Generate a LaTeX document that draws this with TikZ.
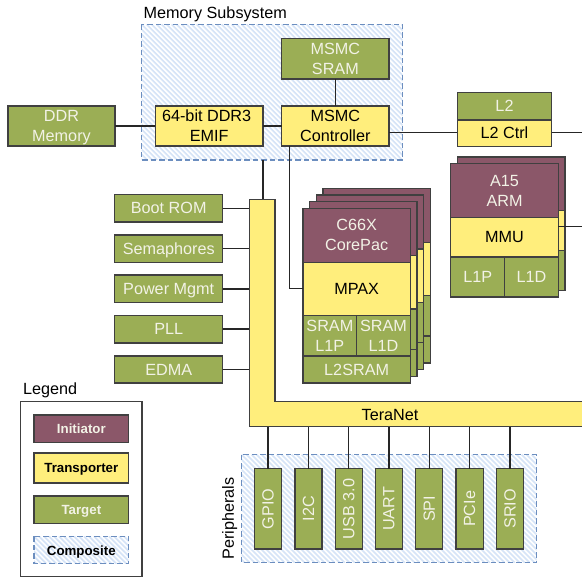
\documentclass[tikz,border=0pt]{standalone}
\usepackage{fontspec}
\setmainfont{Liberation Sans}
\definecolor{cinit}{HTML}{8B5769}
\definecolor{ctrans}{HTML}{FFEE7C}
\definecolor{ctarg}{HTML}{9BAE55}
\definecolor{cline}{HTML}{404040}
\definecolor{ctxt}{HTML}{F2F2E6}
\definecolor{cdash}{HTML}{6C8EBF}
\definecolor{chatch}{HTML}{D6E4F7}
\tikzset{
  base/.style={draw=cline,line width=1.3pt,inner sep=0pt,outer sep=0pt,align=center,font=\fontsize{16.2}{20}\selectfont},
  initbox/.style={base,fill=cinit,text=ctxt},
  transbox/.style={base,fill=ctrans,text=black},
  targbox/.style={base,fill=ctarg,text=ctxt},
  conn/.style={draw=black!85,line width=1.1pt},
  legendtxt/.style={font=\fontsize{13.3}{16}\selectfont\bfseries},
  caption/.style={inner sep=0pt,font=\fontsize{16.2}{20}\selectfont},
}
\newcommand{\nodp}[1]{\raisebox{0pt}[\height][0pt]{#1}}
\newcommand{\bx}[7][]{%
  \pgfmathsetmacro{\bxcx}{(#3+#5)/2}\pgfmathsetmacro{\bxcy}{(#4+#6)/2}%
  \pgfmathsetmacro{\bxw}{#5-(#3)}\pgfmathsetmacro{\bxh}{#6-(#4)}%
  \node[#2,minimum width=\bxw pt,minimum height=\bxh pt,#1] at (\bxcx,\bxcy) {#7};}
\newcommand{\hatched}[4]{%
  \begin{scope}
    \clip (#1,#2) rectangle (#3,#4);
    \fill[white] (#1,#2) rectangle (#3,#4);
    \foreach \k in {-600,-595,...,600}{
      \draw[chatch,line width=1.7pt] ({#1+\k},#2) -- ({#1+\k+(#4-#2)},#4);
    }
  \end{scope}
  \draw[cdash,line width=1.3pt,dash pattern=on 5.5pt off 3pt] (#1,#2) rectangle (#3,#4);}
\begin{document}
\begin{tikzpicture}[x=1pt,y=-1pt]
\useasboundingbox (0,0) rectangle (582,577);
\fill[white] (0,0) rectangle (582,577);

% composites
\hatched{141.7}{24.5}{402.7}{160}
\hatched{241.7}{454.7}{536.7}{562.7}
\node[caption,anchor=west] (memcap) at (143.5,12.5) {\nodp{Memory Subsystem}};
\node[caption,rotate=90] (percap) at (228,518.5) {\nodp{Peripherals}};

% coordinates for connector ends
\coordinate (memb) at (263,160);
\coordinate (e1) at (582,132.8);
\coordinate (e2) at (582,226.7);

% TeraNet
\draw[base,fill=ctrans] (249.3,199.3) -- (275,199.3) -- (275,401.7) -- (590,401.7) -- (590,426.7) -- (249.3,426.7) -- cycle;
\node[inner sep=0pt,font=\fontsize{16.2}{20}\selectfont] (tera) at (390,415) {TeraNet};
\coordinate (ttop) at (263,199.3);

% memory subsystem
\bx[name=sram]{targbox}{281.7}{38.7}{389}{79}{MSMC\\SRAM}
\bx[name=emif]{transbox}{155.3}{106}{263}{146}{64-bit DDR3\hspace*{5pt}\\EMIF}
\bx[name=ctrl]{transbox}{281.7}{106}{389}{146}{MSMC\\Controller}
\bx[name=ddr]{targbox}{8}{106}{115}{146}{DDR\\\nodp{Memory}}

% L2
\bx[name=ltwo]{targbox}{457.3}{92.3}{551.7}{120}{L2}
\bx[name=ltwoc]{transbox}{457.3}{120}{551.7}{146.3}{L2 Ctrl}

% A15 back
\bx{initbox}{457.4}{157}{565}{210.7}{}
\bx{transbox}{457.4}{210.7}{565}{250.7}{}
\bx{targbox}{457.4}{250.7}{565}{290.7}{}
% A15 front
\bx[name=arm]{initbox}{450.7}{163.7}{558.3}{217.3}{A15\\ARM}
\bx[name=mmu]{transbox}{450.7}{217.3}{558.3}{257}{MMU}
\bx[name=aone]{targbox}{450.7}{257}{504.7}{297}{L1P}
\bx[name=atwo]{targbox}{504.7}{257}{558.3}{297}{L1D}

% C66X stacks
\foreach \d in {3,2,1}{
  \pgfmathsetmacro{\offs}{\d*6.67}
  \bx{initbox}{303+\offs}{208.3-\offs}{410.3+\offs}{262.3-\offs}{}
  \bx{transbox}{303+\offs}{262.3-\offs}{410.3+\offs}{315.7-\offs}{}
  \bx{targbox}{303+\offs}{315.7-\offs}{410.3+\offs}{356-\offs}{}
  \bx{targbox}{303+\offs}{356-\offs}{410.3+\offs}{383-\offs}{}
}
\bx[name=cpac]{initbox}{303}{208.3}{410.3}{262.3}{C66X\\CorePac}
\bx[name=mpax]{transbox}{303}{262.3}{410.3}{315.7}{MPAX}
\bx[name=sp]{targbox}{303}{315.7}{356.7}{356}{SRAM\\L1P}
\bx[name=sd]{targbox}{356.7}{315.7}{410.3}{356}{SRAM\\L1D}
\bx[name=lsr]{targbox}{303}{356}{410.3}{383}{L2SRAM}

% left targets
\bx[name=boot]{targbox}{114.7}{194.7}{222.7}{222}{Boot ROM}
\bx[name=sema]{targbox}{114.7}{235}{222.7}{262.3}{\nodp{Semaphores}}
\bx[name=power]{targbox}{114.7}{275}{222.7}{302.7}{\nodp{Power Mgmt}}
\bx[name=pll]{targbox}{114.7}{315.7}{222.7}{343}{PLL}
\bx[name=edma]{targbox}{114.7}{356}{222.7}{383}{EDMA}

% peripherals
\foreach \n/\a/\b/\lab in {gpio/254.3/281.7/GPIO,iic/295/322/I2C,usb/335.3/362.3/USB 3.0,uart/375.3/402.7/UART,spi/415.7/442.7/SPI,pcie/456/483.3/PCIe,srio/496.3/523.7/SRIO}{
  \bx[name=\n]{targbox}{\a}{468.7}{\b}{549}{\rotatebox{90}{\lab}}
}

% connectors
\draw[conn] (ddr.east |- 0,126) -- (emif.west |- 0,126);
\draw[conn] (emif.east |- 0,126) -- (ctrl.west |- 0,126);
\draw[conn] (sram) -- (ctrl);
\draw[conn] (ctrl.east |- 0,132.8) -- (ltwoc.west |- 0,132.8);
\draw[conn] (ltwoc.east |- 0,132.8) -- (e1);
\draw[conn] (mmu.east |- 0,226.7) -- (e2);
\draw[conn] (memb) -- (ttop);
\draw[conn] (289.3,146) -- (289.3,288.5) -- (mpax.west |- 0,288.5);
\foreach \n/\y in {boot/208.3,sema/248.5,power/289,pll/329,edma/369.5}{
  \draw[conn] (\n.east |- 0,\y) -- (249.3,\y);
}
\foreach \n in {gpio,iic,usb,uart,spi,pcie,srio}{
  \draw[conn] (\n.north) -- (\n.north |- 0,426.7);
}

% legend
\node[caption,anchor=west] (legcap) at (23,388.5) {\nodp{Legend}};
\draw[cline,line width=1.3pt] (20.7,401.7) rectangle (142,576.7);
\bx[name=li,legendtxt]{initbox}{34}{415}{128.7}{442.7}{Initiator}
\bx[name=lt,legendtxt]{transbox}{34}{453}{128.7}{483}{\nodp{Transporter}}
\bx[name=la,legendtxt]{targbox}{34}{496}{128.7}{523.3}{\nodp{Target}}
\hatched{34}{536.3}{128.7}{563.7}
\node[legendtxt,inner sep=0pt] (lc) at (81.3,550.5) {\nodp{Composite}};
\end{tikzpicture}
\end{document}
